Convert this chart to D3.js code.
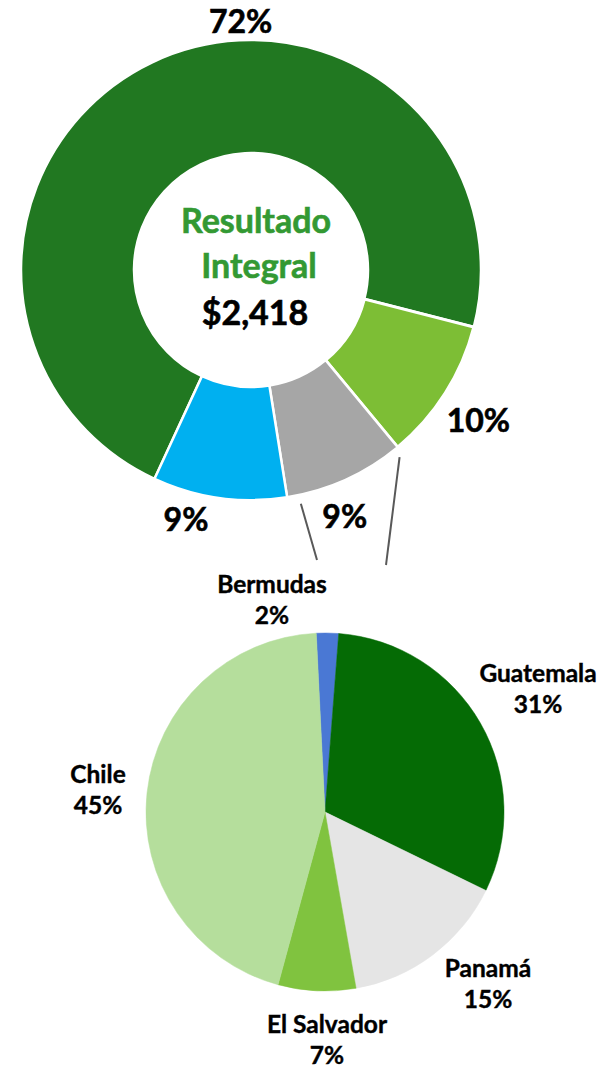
<!DOCTYPE html>
<html>
<head>
<meta charset="utf-8">
<script src="https://cdn.jsdelivr.net/npm/d3@7"></script>
<style>
  body { margin: 0; background: #fff; }
  svg text { font-family: Lato, "Open Sans", sans-serif; font-weight: 700; }
</style>
</head>
<body>
<svg id="chart" width="603" height="1068"></svg>
<script>
// donut: resultado integral by segment
var donutValues = [72.1, 10, 8.5, 9.4];
var donutLabels = ["72%", "10%", "9%", "9%"];
var donutColors = ["#217821", "#7dbe35", "#a6a6a6", "#00b0f0"];

// pie: breakdown of the grey slice by country
var countries = ["Bermudas", "Guatemala", "Panamá", "El Salvador", "Chile"];
var countryValues = [2, 31, 15, 7, 45];
var countryLabels = ["2%", "31%", "15%", "7%", "45%"];
var countryColors = ["#4a78d4", "#056b05", "#e5e5e5", "#80c33f", "#b5de9c"];

var centerTitle = ["Resultado", "Integral"];
var centerValue = "$2,418";

var svg = d3.select("#chart");
var deg = Math.PI / 180;

// ---- donut ----
var dCx = 251, dCy = 270, dOuter = 230, dInner = 117;
var dStart = 204.8 * deg;

var donutPie = d3.pie()
    .sort(null)
    .startAngle(dStart)
    .endAngle(dStart + 2 * Math.PI);

var donutArc = d3.arc()
    .innerRadius(dInner)
    .outerRadius(dOuter);

var donutG = svg.append("g")
    .attr("transform", "translate(" + dCx + "," + dCy + ")");

var dArcs = donutPie(donutValues);

donutG.selectAll("path")
    .data(dArcs)
    .enter()
    .append("path")
    .attr("d", donutArc)
    .attr("fill", function(d, i){ return donutColors[i]; })
    .attr("stroke", "#fff")
    .attr("stroke-width", function(d, i){ return i == 1 ? 3 : 2.5; });

function polar(a, r){
    return [Math.sin(a) * r, -Math.cos(a) * r];
}

// outside labels: angle (deg) and radius from the donut centre
var donutLabelPos = [[-2.4, 248], [123.6, 273], [159.2, 264], [194.6, 258]];

donutG.selectAll("text.pct")
    .data(dArcs)
    .enter()
    .append("text")
    .attr("class", "pct")
    .attr("text-anchor", "middle")
    .attr("dy", "0.35em")
    .attr("font-size", 32)
    .attr("fill", "#000")
    .attr("stroke", "#000")
    .attr("stroke-width", 0.6)
    .attr("transform", function(d, i){
        var p = polar(donutLabelPos[i][0] * deg, donutLabelPos[i][1]);
        return "translate(" + p[0] + "," + p[1] + ")";
    })
    .text(function(d, i){ return donutLabels[i]; });

// centre text
donutG.selectAll("text.title")
    .data(centerTitle)
    .enter()
    .append("text")
    .attr("class", "title")
    .attr("text-anchor", "middle")
    .attr("x", function(d, i){ return i == 0 ? 5 : 8; })
    .attr("y", function(d, i){ return -37 + i * 45; })
    .attr("font-size", 34)
    .attr("fill", "#339933")
    .attr("stroke", "#339933")
    .attr("stroke-width", 0.6)
    .text(function(d){ return d; });

donutG.append("text")
    .attr("text-anchor", "middle")
    .attr("x", 4)
    .attr("y", 55)
    .attr("font-size", 34)
    .attr("fill", "#000")
    .attr("stroke", "#000")
    .attr("stroke-width", 0.6)
    .text(centerValue);

// ---- pie ----
var pCx = 325, pCy = 812, pR = 179;
var pStart = -2.8 * deg;

var countryPie = d3.pie()
    .sort(null)
    .startAngle(pStart)
    .endAngle(pStart + 2 * Math.PI);

var countryArc = d3.arc()
    .innerRadius(0)
    .outerRadius(pR);

var pieG = svg.append("g")
    .attr("transform", "translate(" + pCx + "," + pCy + ")");

var pArcs = countryPie(countryValues);

pieG.selectAll("path")
    .data(pArcs)
    .enter()
    .append("path")
    .attr("d", countryArc)
    .attr("fill", function(d, i){ return countryColors[i]; })
    .attr("stroke", function(d, i){ return countryColors[i]; })
    .attr("stroke-width", 0.5);

// connector lines from grey slice down to the pie
var grey = dArcs[2];
var conn = [
    [grey.endAngle - 3 * deg, -8],
    [grey.startAngle + 1.2 * deg, 61]
];
svg.selectAll("line.conn")
    .data(conn)
    .enter()
    .append("line")
    .attr("class", "conn")
    .attr("x1", function(d){ return dCx + polar(d[0], dOuter + 9)[0]; })
    .attr("y1", function(d){ return dCy + polar(d[0], dOuter + 9)[1]; })
    .attr("x2", function(d){ return pCx + d[1]; })
    .attr("y2", function(d, i){ return pCy - pR - (i == 0 ? 73 : 68); })
    .attr("stroke", "#595959")
    .attr("stroke-width", 2);

// country labels (x, y of first line relative to pie centre)
var countryLabelPos = [[-53, -219], [213, -130], [163, 165], [2, 221], [-227, -29]];

var lbl = pieG.selectAll("text.country")
    .data(pArcs)
    .enter()
    .append("text")
    .attr("class", "country")
    .attr("text-anchor", "middle")
    .attr("font-size", 24.5)
    .attr("fill", "#000")
    .attr("stroke", "#000")
    .attr("stroke-width", 0.4)
    .attr("x", function(d, i){ return countryLabelPos[i][0]; })
    .attr("y", function(d, i){ return countryLabelPos[i][1]; });

lbl.append("tspan")
    .text(function(d, i){ return countries[i]; });

lbl.append("tspan")
    .attr("x", function(d, i){ return countryLabelPos[i][0]; })
    .attr("dy", 31)
    .text(function(d, i){ return countryLabels[i]; });
</script>
</body>
</html>
